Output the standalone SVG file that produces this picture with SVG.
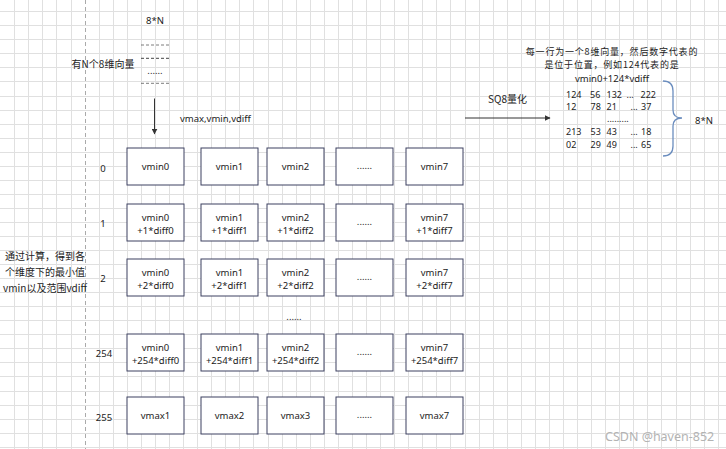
<svg xmlns="http://www.w3.org/2000/svg" width="726" height="449" viewBox="0 0 726 449">
<defs>
<marker id="arr" viewBox="0 0 10 10" refX="9" refY="5" markerWidth="6" markerHeight="6" orient="auto" markerUnits="userSpaceOnUse">
<path d="M0 0 L10 5 L0 10 Z" fill="#333"/>
</marker>
<style>
.grid{fill:none;stroke:#e0e0e0;stroke-width:1;shape-rendering:crispEdges}
.box{fill:#fff;stroke:#3d4160;stroke-width:1}
.t{font-family:"Noto Sans","Noto Sans CJK SC",sans-serif;font-size:9.5px;fill:#222}
.n{font-family:"Noto Sans",sans-serif;font-size:9px;fill:#222}
.c{text-anchor:middle}
.cjk{font-family:"Noto Sans CJK SC","Noto Sans",sans-serif;font-size:10px;fill:#222}
.cjks{font-family:"Noto Sans CJK SC","Noto Sans",sans-serif;font-size:9px;letter-spacing:0.8px;fill:#222}
.dash{stroke:#444;stroke-width:1;stroke-dasharray:3 2}
.edge{stroke:#333;stroke-width:1;fill:none}
</style>
</defs>
<rect width="726" height="449" fill="#fff"/>
<path class="grid" d="M14.5 0V449M28.5 0V449M42.5 0V449M56.5 0V449M71.5 0V449M99.5 0V449M113.5 0V449M127.5 0V449M141.5 0V449M155.5 0V449M169.5 0V449M183.5 0V449M197.5 0V449M211.5 0V449M225.5 0V449M239.5 0V449M253.5 0V449M268.5 0V449M282.5 0V449M296.5 0V449M310.5 0V449M324.5 0V449M338.5 0V449M352.5 0V449M366.5 0V449M380.5 0V449M394.5 0V449M408.5 0V449M422.5 0V449M436.5 0V449M450.5 0V449M465.5 0V449M479.5 0V449M493.5 0V449M507.5 0V449M521.5 0V449M535.5 0V449M549.5 0V449M563.5 0V449M577.5 0V449M591.5 0V449M605.5 0V449M619.5 0V449M633.5 0V449M647.5 0V449M661.5 0V449M676.5 0V449M690.5 0V449M704.5 0V449M718.5 0V449M0 11.5H726M0 25.5H726M0 39.5H726M0 53.5H726M0 67.5H726M0 81.5H726M0 96.5H726M0 110.5H726M0 124.5H726M0 138.5H726M0 152.5H726M0 166.5H726M0 180.5H726M0 194.5H726M0 208.5H726M0 222.5H726M0 236.5H726M0 250.5H726M0 264.5H726M0 278.5H726M0 292.5H726M0 306.5H726M0 320.5H726M0 334.5H726M0 348.5H726M0 362.5H726M0 376.5H726M0 391.5H726M0 405.5H726M0 419.5H726M0 433.5H726M0 447.5H726"/>
<line x1="85.5" y1="0" x2="85.5" y2="449" stroke="#aaaaaa" stroke-width="1" stroke-dasharray="4 3"/>

<g id="vectors-source">
<text class="t c" x="155" y="23.5">8*N</text>
<line class="dash" x1="141" y1="45" x2="170" y2="45" stroke-opacity="0.7"/>
<line class="dash" x1="141" y1="58.3" x2="170" y2="58.3"/>
<text class="t c" x="155" y="74">......</text>
<line class="dash" x1="141" y1="83.3" x2="170" y2="83.3" stroke-opacity="0.7"/>
<text class="cjk c" x="103" y="67.5">有N个8维向量</text>
</g>

<g id="label-vmax"><text class="t" x="180" y="121.5">vmax,vmin,vdiff</text></g>
<g id="label-left">
<text class="cjk c" x="45" y="259.5">通过计算，得到各</text>
<text class="cjk c" x="45" y="276">个维度下的最小值</text>
<text class="cjk c" x="45" y="292">vmin以及范围vdiff</text>
</g>

<g id="row-labels">
<text class="t c" x="103" y="171.5">0</text>
<text class="t c" x="103" y="226.5">1</text>
<text class="t c" x="103" y="281.5">2</text>
<text class="t c" x="104" y="356.5">254</text>
<text class="t c" x="104" y="420.5">255</text>
</g>

<g id="row0">
<rect class="box" x="127" y="148" width="57" height="37"/><text class="t c" x="155.5" y="170">vmin0</text>
<rect class="box" x="201" y="148" width="57" height="37"/><text class="t c" x="229.5" y="170">vmin1</text>
<rect class="box" x="267" y="148" width="57" height="37"/><text class="t c" x="295.5" y="170">vmin2</text>
<rect class="box" x="336" y="148" width="57" height="37"/><text class="t c" x="364.5" y="169">......</text>
<rect class="box" x="406" y="148" width="57" height="37"/><text class="t c" x="434.5" y="170">vmin7</text>
</g>

<g id="row1">
<rect class="box" x="127" y="204" width="57" height="37"/><text class="t c" x="155.5" y="220.5">vmin0</text><text class="t c" x="155.5" y="233.5">+1*diff0</text>
<rect class="box" x="201" y="204" width="57" height="37"/><text class="t c" x="229.5" y="220.5">vmin1</text><text class="t c" x="229.5" y="233.5">+1*diff1</text>
<rect class="box" x="267" y="204" width="57" height="37"/><text class="t c" x="295.5" y="220.5">vmin2</text><text class="t c" x="295.5" y="233.5">+1*diff2</text>
<rect class="box" x="336" y="204" width="57" height="37"/><text class="t c" x="364.5" y="225">......</text>
<rect class="box" x="406" y="204" width="57" height="37"/><text class="t c" x="434.5" y="220.5">vmin7</text><text class="t c" x="434.5" y="233.5">+1*diff7</text>
</g>

<g id="row2">
<rect class="box" x="127" y="259" width="57" height="37"/><text class="t c" x="155.5" y="275.5">vmin0</text><text class="t c" x="155.5" y="288.5">+2*diff0</text>
<rect class="box" x="201" y="259" width="57" height="37"/><text class="t c" x="229.5" y="275.5">vmin1</text><text class="t c" x="229.5" y="288.5">+2*diff1</text>
<rect class="box" x="267" y="259" width="57" height="37"/><text class="t c" x="295.5" y="275.5">vmin2</text><text class="t c" x="295.5" y="288.5">+2*diff2</text>
<rect class="box" x="336" y="259" width="57" height="37"/><text class="t c" x="364.5" y="280">......</text>
<rect class="box" x="406" y="259" width="57" height="37"/><text class="t c" x="434.5" y="275.5">vmin7</text><text class="t c" x="434.5" y="288.5">+2*diff7</text>
</g>

<g id="row-ellipsis"><text class="t c" x="294" y="319.5">......</text></g>

<g id="row254">
<rect class="box" x="127" y="334" width="57" height="37"/><text class="t c" x="155.5" y="350.5">vmin0</text><text class="t c" x="155.5" y="363.5">+254*diff0</text>
<rect class="box" x="201" y="334" width="57" height="37"/><text class="t c" x="229.5" y="350.5">vmin1</text><text class="t c" x="229.5" y="363.5">+254*diff1</text>
<rect class="box" x="267" y="334" width="57" height="37"/><text class="t c" x="295.5" y="350.5">vmin2</text><text class="t c" x="295.5" y="363.5">+254*diff2</text>
<rect class="box" x="336" y="334" width="57" height="37"/><text class="t c" x="364.5" y="355">......</text>
<rect class="box" x="406" y="334" width="57" height="37"/><text class="t c" x="434.5" y="350.5">vmin7</text><text class="t c" x="434.5" y="363.5">+254*diff7</text>
</g>

<g id="row255">
<rect class="box" x="127" y="397" width="57" height="37"/><text class="t c" x="155.5" y="419">vmax1</text>
<rect class="box" x="201" y="397" width="57" height="37"/><text class="t c" x="229.5" y="419">vmax2</text>
<rect class="box" x="267" y="397" width="57" height="37"/><text class="t c" x="295.5" y="419">vmax3</text>
<rect class="box" x="336" y="397" width="57" height="37"/><text class="t c" x="364.5" y="418">......</text>
<rect class="box" x="406" y="397" width="57" height="37"/><text class="t c" x="434.5" y="419">vmax7</text>
</g>

<g id="label-sq8"><text class="cjk" x="488" y="102.5">SQ8量化</text></g>

<g id="quantized">
<text class="cjks c" x="612" y="54.5">每一行为一个8维向量，然后数字代表的</text>
<text class="cjks c" x="612" y="67.5">是位于位置，例如124代表的是</text>
<text class="t c" x="612" y="81.5">vmin0+124*vdiff</text>
<text class="n" y="97.5"><tspan x="566">124</tspan><tspan x="590">56</tspan><tspan x="606.5">132</tspan><tspan x="626.5">...</tspan><tspan x="640.5">222</tspan></text>
<text class="n" y="109.8"><tspan x="566">12</tspan><tspan x="590.5">78</tspan><tspan x="606.5">21</tspan><tspan x="630.5">...</tspan><tspan x="641">37</tspan></text>
<text class="n" x="607" y="122.3">.........</text>
<text class="n" y="135"><tspan x="566">213</tspan><tspan x="590.5">53</tspan><tspan x="606.5">43</tspan><tspan x="630.5">...</tspan><tspan x="641">18</tspan></text>
<text class="n" y="148.2"><tspan x="566">02</tspan><tspan x="590.5">29</tspan><tspan x="606.5">49</tspan><tspan x="630.5">...</tspan><tspan x="641">65</tspan></text>
<path d="M663 81 Q673 81 673 91 V110 Q673 118 682 118 Q673 118 673 126 V146 Q673 156 663 156" fill="none" stroke="#6c8ebf" stroke-width="1.3"/>
<text class="t" x="695" y="123.5">8*N</text>
</g>

<g id="connectors">
<line class="edge" x1="154.5" y1="98.5" x2="154.5" y2="134" marker-end="url(#arr)"/>
<line class="edge" x1="465" y1="118" x2="550" y2="118" marker-end="url(#arr)"/>
</g>

<text x="605" y="441" font-family="Noto Sans, sans-serif" font-size="12.5" fill="#b3b3b3">CSDN @haven-852</text>
</svg>
